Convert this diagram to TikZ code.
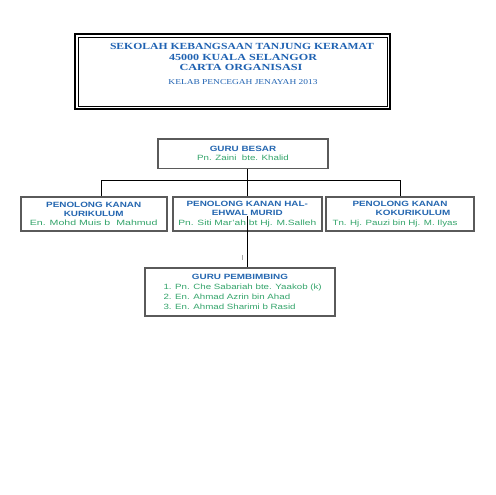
\documentclass[tikz,border=0pt]{standalone}
\usepackage{fontspec}
\setmainfont{Liberation Sans}[FakeStretch=1.28,BoldFeatures={FakeStretch=1.3}]
\newfontfamily\titlefont{Liberation Serif}
\usepackage{graphicx}
\definecolor{hblue}{HTML}{2466B0}
\definecolor{tblue}{HTML}{1F62B2}
\definecolor{ngreen}{HTML}{33A46A}
\definecolor{bgray}{HTML}{5A5A5A}
\newcommand\hdtxt[1]{\textcolor{hblue}{\bfseries #1}}
\newcommand\nmtxt[1]{\textcolor{ngreen}{#1}}
\begin{document}
\begin{tikzpicture}[x=1pt,y=-1pt,
  box/.style={draw=bgray,line width=1.7pt,fill=white,align=center,inner sep=0pt,
    font=\fontsize{7.6}{9.3}\selectfont},
  conn/.style={draw=black,line width=0.9pt},
  ttl/.style={inner sep=0pt,text=tblue}]
\useasboundingbox (0,0) rectangle (495,495);
\fill[white] (0,0) rectangle (495,495);
% title box
\node[draw=black,line width=2pt,minimum width=315pt,minimum height=75pt,inner sep=0pt] (title) at (232.5,71.5) {};
\draw[line width=0.9pt] ([shift={(4,4)}]title.north west) rectangle ([shift={(-4,-4)}]title.south east);
\node[ttl] (t1) at (242,46) {\resizebox{264pt}{6.2pt}{\titlefont\bfseries SEKOLAH KEBANGSAAN TANJUNG KERAMAT}};
\node[ttl] (t2) at (243,57) {\resizebox{148pt}{6.2pt}{\titlefont\bfseries 45000 KUALA SELANGOR}};
\node[ttl] (t3) at (241,67) {\resizebox{123pt}{6.2pt}{\titlefont\bfseries CARTA ORGANISASI}};
\node[ttl] (t4) at (243,82) {\resizebox{149pt}{5pt}{\titlefont KELAB PENCEGAH JENAYAH 2013}};
% boxes
\node[box,minimum width=170pt,minimum height=29.5pt] (top) at (243,153.7)
  {\hdtxt{GURU BESAR}\\ \nmtxt{Pn. Zaini~~bte. Khalid}};
\node[box,minimum width=146pt,minimum height=34pt] (left) at (93.7,214)
  {\hdtxt{PENOLONG KANAN}\\ \hdtxt{KURIKULUM}\\ \scalebox{1.09}[1]{\nmtxt{En. Mohd Muis b~~Mahmud}}};
\node[box,minimum width=148.7pt,minimum height=34pt] (mid) at (247.3,214)
  {\hdtxt{PENOLONG KANAN HAL-}\\ \hdtxt{EHWAL MURID}\\ \scalebox{1.05}[1]{\nmtxt{Pn. Siti Mar'ah bt Hj. M.Salleh}}};
\node[box,minimum width=148pt,minimum height=34pt] (right) at (400,214)
  {\hdtxt{PENOLONG KANAN}\\ \hspace*{26pt}\hdtxt{KOKURIKULUM}\\ \nmtxt{Tn. Hj. Pauzi bin Hj. M. Ilyas}\hspace*{10pt}};
\node[box,minimum width=190pt,minimum height=48pt,font=\fontsize{7.6}{10}\selectfont] (pem) at (240,292)
  {\hdtxt{GURU PEMBIMBING}\\
   \makebox[153pt][l]{\nmtxt{1. Pn. Che Sabariah bte. Yaakob (k)}}\\
   \makebox[153pt][l]{\nmtxt{2. En. Ahmad Azrin bin Ahad}}\\
   \makebox[153pt][l]{\nmtxt{3. En. Ahmad Sharimi b Rasid}}};
% connectors
\coordinate (jl) at (101,180);
\coordinate (jr) at (400,180);
\draw[conn] (top.south -| mid.north) -- (mid.north);
\draw[conn] (jl |- left.north) -- (jl) -- (jr) -- (jr |- right.north);
\draw[conn] (mid.south |- 0,216) -- (mid.south |- pem.north);
\draw[gray!70,line width=0.6pt] (242,255) -- (242,260);
\end{tikzpicture}
\end{document}
